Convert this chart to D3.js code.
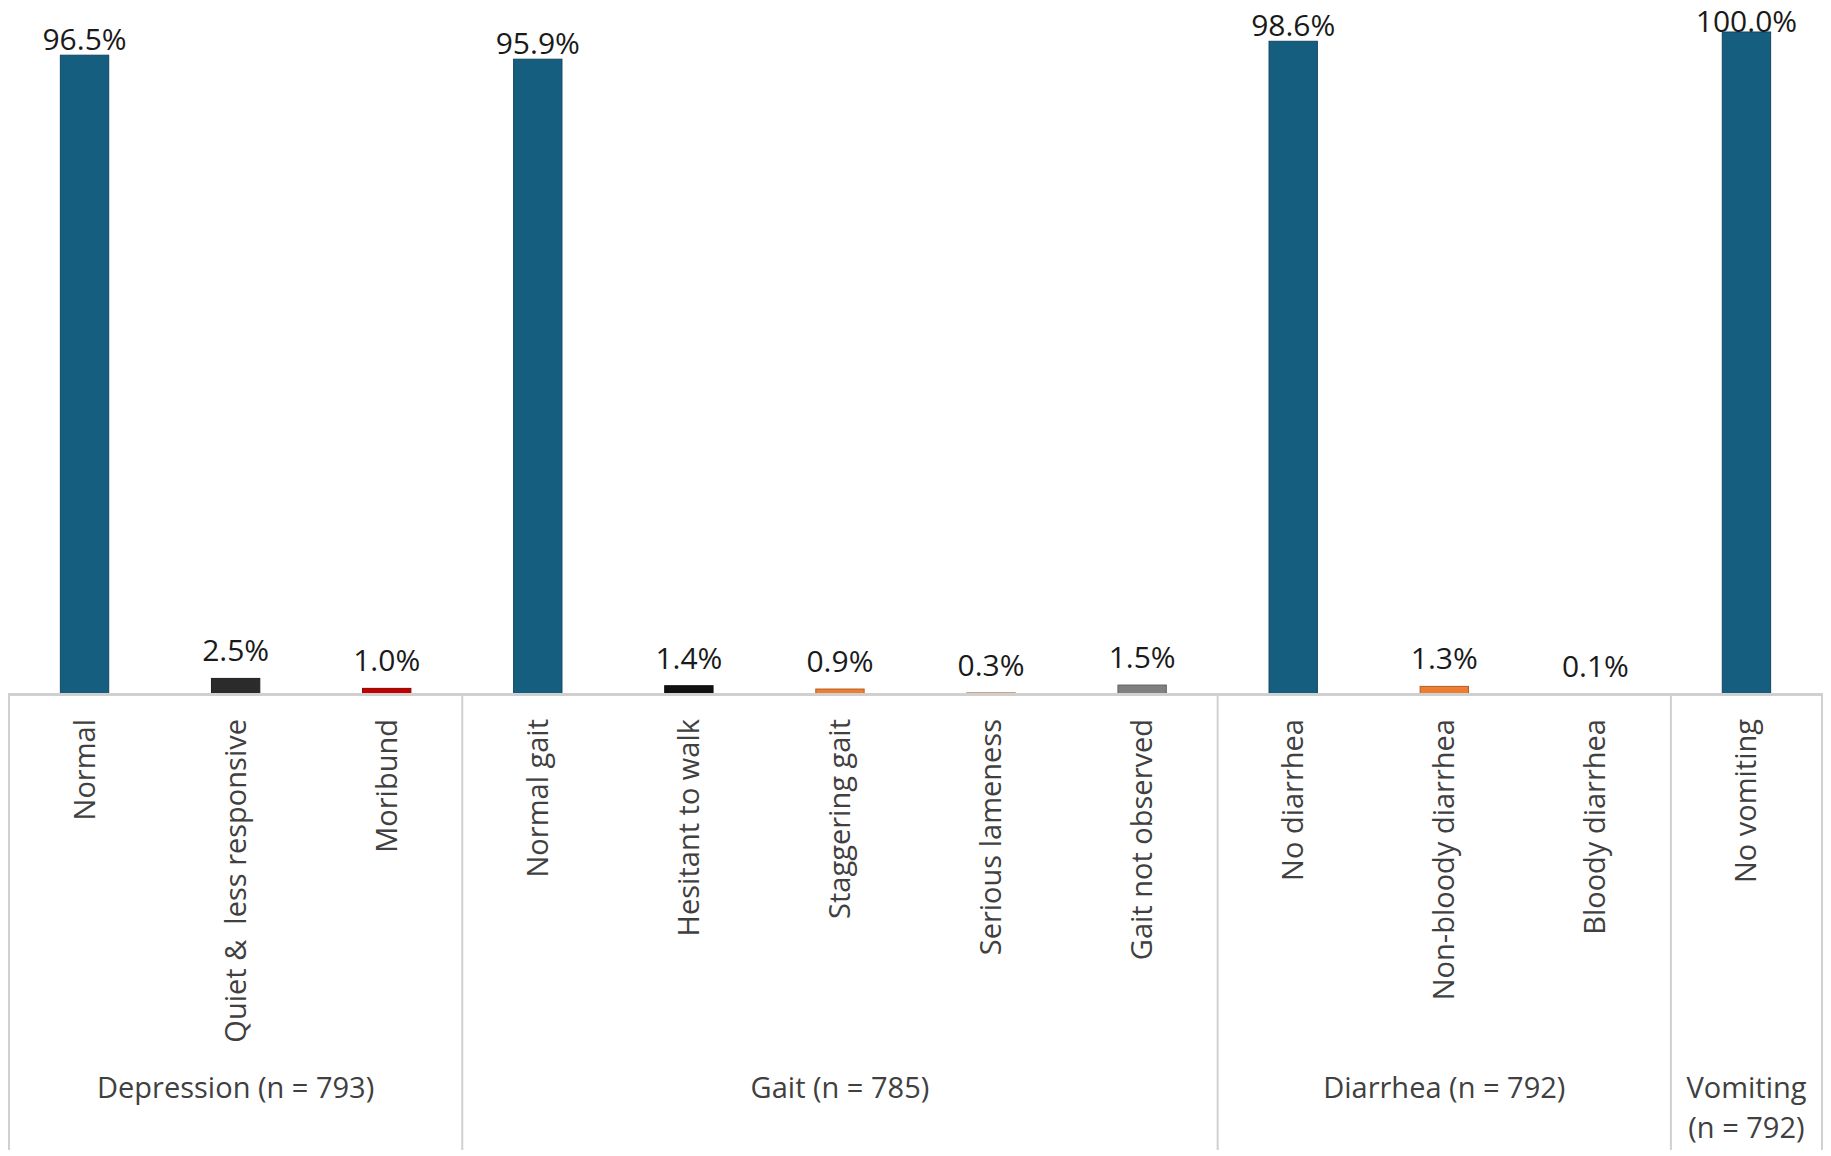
<!DOCTYPE html>
<html lang="en">
<head>
<meta charset="UTF-8">
<title>Clinical signs</title>
<script src="https://cdn.jsdelivr.net/npm/d3@7"></script>
<style>
    body { margin: 0; background: #fff; }
    text { font-family: "Open Sans", "Liberation Sans", sans-serif; }
</style>
</head>
<body>
<script>
// chart data
var categories = ["Normal", "Quiet &  less responsive", "Moribund",
    "Normal gait", "Hesitant to walk", "Staggering gait", "Serious lameness", "Gait not observed",
    "No diarrhea", "Non-bloody diarrhea", "Bloody diarrhea",
    "No vomiting"];
var values = [96.5, 2.5, 1.0, 95.9, 1.4, 0.9, 0.3, 1.5, 98.6, 1.3, 0.1, 100.0];
var groupNames = ["Depression (n = 793)", "Gait (n = 785)", "Diarrhea (n = 792)", "Vomiting (n = 792)"];
var groupSizes = [3, 5, 3, 1];

// fill per bar
var barColors = ["#165e80", "#2b2b2b", "#c00000",
    "#165e80", "#111111", "#ed7d31", "#c55a11", "#808080",
    "#165e80", "#ed7d31", "#c00000",
    "#165e80"];

var W = 1831, H = 1156;
var left = 9, right = 1822, base = 695, bottom = 1150;

var svg = d3.select("body").append("svg")
    .attr("width", W)
    .attr("height", H);

var pad = 0.68;
var x = d3.scaleBand()
    .domain(categories)
    .range([left, right])
    .paddingInner(pad)
    .paddingOuter(pad / 2);

var y = d3.scaleLinear().domain([0, 100]).range([base, 32]);

var step = x.step();
function cellStart(i) { return x(categories[i]) - step * pad / 2; }

// bars
svg.selectAll("rect.bar").data(values)
    .enter().append("rect")
    .attr("class", "bar")
    .attr("x", function(d, i) { return x(categories[i]); })
    .attr("width", x.bandwidth())
    .attr("y", function(d) { return y(d); })
    .attr("height", function(d) { return base - y(d); })
    .style("fill", function(d, i) { return barColors[i]; })
    .style("stroke", function(d, i) { return d3.color(barColors[i]).darker(0.8); })
    .style("stroke-width", 1);

// value labels, kept inside the top edge
svg.selectAll("text.val").data(values)
    .enter().append("text")
    .attr("class", "val")
    .attr("x", function(d, i) { return x(categories[i]) + x.bandwidth() / 2; })
    .attr("y", function(d) { return d > 50 ? Math.max(y(d) - 5, 32) : y(d) - 17; })
    .attr("text-anchor", "middle")
    .style("font-size", "30px")
    .style("fill", "#1a1a1a")
    .text(function(d) { return d.toFixed(1) + "%"; });

// axis line (over the bar feet) and group separators
var bounds = [0];
groupSizes.forEach(function(n) { bounds.push(bounds[bounds.length - 1] + n); });

svg.selectAll("line.sep").data(bounds)
    .enter().append("line")
    .attr("class", "sep")
    .attr("x1", function(b) { return b < categories.length ? cellStart(b) : right; })
    .attr("x2", function(b) { return b < categories.length ? cellStart(b) : right; })
    .attr("y1", base).attr("y2", bottom)
    .style("stroke", "#d0d0d0").style("stroke-width", 2);

svg.append("line")
    .attr("x1", left - 1).attr("x2", right + 1)
    .attr("y1", base - 0.5).attr("y2", base - 0.5)
    .style("stroke", "#d0d0d0").style("stroke-width", 3);

// category labels, rotated
svg.selectAll("text.cat").data(categories)
    .enter().append("text")
    .attr("class", "cat")
    .attr("transform", function(d) {
        return "translate(" + (x(d) + x.bandwidth() / 2 + 10) + "," + 719 + ") rotate(-90)";
    })
    .attr("text-anchor", "end")
    .style("font-size", "29px")
    .style("fill", "#404040")
    .style("white-space", "pre")
    .text(function(d) { return d; });

// group labels, wrapped when the cell is too narrow
groupNames.forEach(function(g, k) {
    var x0 = cellStart(bounds[k]);
    var x1 = bounds[k + 1] < categories.length ? cellStart(bounds[k + 1]) : right;
    var t = svg.append("text")
        .attr("x", (x0 + x1) / 2)
        .attr("y", 1098)
        .attr("text-anchor", "middle")
        .style("font-size", "29px")
        .style("fill", "#404040")
        .text(g);
    if (t.node().getComputedTextLength() > x1 - x0 - 10) {
        var parts = g.split(" (");
        t.text(null);
        t.append("tspan").attr("x", (x0 + x1) / 2).attr("dy", 0).text(parts[0]);
        t.append("tspan").attr("x", (x0 + x1) / 2).attr("dy", 40).text("(" + parts[1]);
    }
});
</script>
</body>
</html>
